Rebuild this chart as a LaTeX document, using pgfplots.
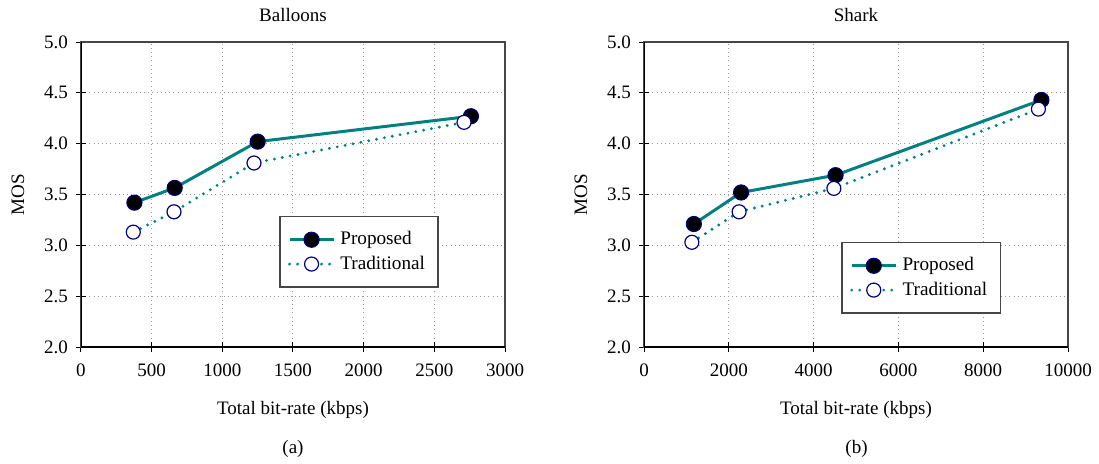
\documentclass[border=0pt]{standalone}
\usepackage{fontspec}
\setmainfont{Liberation Serif}
\usepackage{pgfplots}
\pgfplotsset{compat=1.18}
\definecolor{tealc}{RGB}{0,128,128}
\definecolor{navyc}{RGB}{0,0,128}

\pgfplotstableread{
x y
378 3.42
663 3.565
1250 4.02
2759 4.27
}\balP
\pgfplotstableread{
x y
370 3.13
658 3.33
1224 3.81
2710 4.21
}\balT
\pgfplotstableread{
x y
1176 3.21
2290 3.52
4518 3.69
9373 4.43
}\shaP
\pgfplotstableread{
x y
1129 3.03
2243 3.33
4478 3.56
9302 4.34
}\shaT

\pgfplotsset{
  mystyle/.style={
    scale only axis, width=212pt, height=152.5pt,
    ymin=2, ymax=5, ytick={2,2.5,...,5},
    font=\fontsize{9.5}{11.5}\selectfont,
    /pgf/number format/assume math mode=true,
    yticklabel style={/pgf/number format/.cd, fixed, fixed zerofill, precision=1},
    xticklabel style={/pgf/number format/.cd, fixed, set thousands separator={}},
    scaled x ticks=false,
    xticklabel shift=2.5pt, yticklabel shift=0.5pt,
    grid=major,
    grid style={draw=gray!80, line width=0.5pt, dash pattern=on 0.5pt off 1.6pt},
    axis line style={draw=gray!55!black, line width=0.8pt},
    tick align=center, xtick pos=bottom, ytick pos=left,
    major tick length=5pt,
    tick style={black, line width=0.5pt},
    ylabel=MOS, xlabel={Total bit-rate (kbps)},
    ylabel style={at={(axis description cs:-0.1486,0.5)}, anchor=center},
    xlabel style={at={(axis description cs:0.5,-0.2066)}, anchor=center},
    title style={at={(axis description cs:0.5,1)}, anchor=center, yshift=7.5pt},
    legend cell align=left,
    legend style={draw=gray!55!black, line width=0.8pt, font=\fontsize{9.6}{11.5}\selectfont,
      inner xsep=4pt, inner ysep=5.5pt, row sep=0pt,
      nodes={inner xsep=2.6pt}},
    legend image code/.code={\draw[mark repeat=2,mark phase=2,#1] plot coordinates {(0pt,0pt)(11pt,0pt)(22pt,0pt)};},
  },
  propstyle/.style={tealc, line width=1.5pt, mark=*, mark size=3.8pt,
    mark options={solid, fill=black, draw=navyc, line width=0.5pt}},
  tradstyle/.style={tealc, line width=1.6pt, line cap=round, dash pattern=on 0pt off 4pt,
    mark=*, mark size=3.5pt,
    mark options={solid, fill=white, draw=navyc, line width=0.6pt}},
}

\begin{document}
\begin{tikzpicture}
\useasboundingbox (-40.5pt,-58pt) rectangle (509pt,173.5pt);
\begin{axis}[mystyle, title=Balloons,
  xmin=0, xmax=3000, xtick={0,500,...,3000},
  legend style={at={(0.8443,0.1934)}, anchor=south east}]
\addplot[propstyle] table[x=x,y=y] {\balP};
\addlegendentry{Proposed}
\addplot[tradstyle] table[x=x,y=y] {\balT};
\addlegendentry{Traditional}
\draw[black, line width=0.6pt] (rel axis cs:0,1) -- (rel axis cs:0,0) -- (rel axis cs:1,0);
\end{axis}
\begin{axis}[mystyle, at={(281.5pt,0pt)}, title=Shark,
  xmin=0, xmax=10000, xtick={0,2000,...,10000},
  legend style={at={(0.8424,0.108)}, anchor=south east}]
\addplot[propstyle] table[x=x,y=y] {\shaP};
\addlegendentry{Proposed}
\addplot[tradstyle] table[x=x,y=y] {\shaT};
\addlegendentry{Traditional}
\draw[black, line width=0.6pt] (rel axis cs:0,1) -- (rel axis cs:0,0) -- (rel axis cs:1,0);
\end{axis}
\node[font=\fontsize{9.5}{11.5}\selectfont] at (106pt,-51pt) {(a)};
\node[font=\fontsize{9.5}{11.5}\selectfont] at (387.75pt,-51pt) {(b)};
\end{tikzpicture}
\end{document}
